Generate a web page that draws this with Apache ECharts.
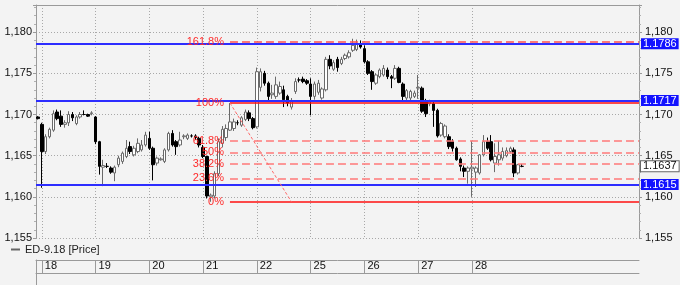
<!DOCTYPE html>
<html><head><meta charset="utf-8">
<script src="https://cdn.jsdelivr.net/npm/echarts@6/dist/echarts.min.js"></script>
<style>html,body{margin:0;padding:0;background:#f3f3f3}#c{width:680px;height:285px}</style>
</head><body><div id="c"></div>
<script>
const seriesName = 'ED-9.18 [Price]';
const dayLabels = ['18','19','20','21','22','25','26','27','28'];
const barsPerDay = 14;
const firstDayBar = 1;
const visibleBars = 157;

const opens = [1.1697,1.1688,1.1655,1.1673,1.1681,1.1703,1.1698,1.1688,1.1690,1.1700,1.1689,1.1697,1.1700,1.1700,1.1701,
 1.1697,1.1667,1.1636,1.1637,1.1635,1.1629,1.1639,1.1643,1.1649,1.1661,1.1651,1.1655,1.1657,1.1663,
 1.1671,1.1659,1.1641,1.1645,1.1643,1.1657,1.1677,1.1667,1.1663,1.1673,1.1671,1.1674,1.1674,1.1671,
 1.1660,1.1649,1.1600,1.1601,1.1628,1.1665,1.1672,1.1681,1.1683,1.1690,1.1687,1.1694,1.1702,1.1695,
 1.1685,1.1733,1.1750,1.1738,1.1724,1.1722,1.1726,1.1730,1.1722,1.1709,1.1728,1.1742,1.1743,1.1741,
 1.1737,1.1722,1.1727,1.1720,1.1730,1.1767,1.1755,1.1767,1.1762,1.1768,1.1770,1.1778,1.1779,1.1785,
 1.1780,1.1764,1.1752,1.1738,1.1746,1.1748,1.1754,1.1746,1.1744,1.1756,1.1737,1.1720,1.1720,1.1722,
 1.1732,1.1732,1.1717,1.1713,1.1713,1.1705,1.1675,1.1673,1.1673,1.1667,1.1659,1.1646,1.1635,1.1631,
 1.1634,1.1630,1.1629,1.1651,1.1667,1.1667,1.1641,1.1645,1.1647,1.1650,1.1655,1.1657,1.1629,1.1637];
const closes = [1.1695,1.1655,1.1673,1.1682,1.1701,1.1695,1.1688,1.1690,1.1700,1.1696,1.1697,1.1700,1.1700,1.1698,1.1702,
 1.1667,1.1637,1.1638,1.1637,1.1630,1.1636,1.1647,1.1653,1.1659,1.1655,1.1659,1.1665,1.1663,1.1675,
 1.1659,1.1639,1.1647,1.1646,1.1657,1.1677,1.1663,1.1661,1.1669,1.1674,1.1675,1.1674,1.1672,1.1663,
 1.1649,1.1601,1.1602,1.1628,1.1667,1.1682,1.1683,1.1691,1.1691,1.1690,1.1696,1.1703,1.1695,1.1684,
 1.1752,1.1752,1.1738,1.1722,1.1726,1.1736,1.1734,1.1718,1.1714,1.1717,1.1740,1.1742,1.1740,1.1738,
 1.1722,1.1737,1.1738,1.1731,1.1767,1.1759,1.1763,1.1757,1.1767,1.1772,1.1775,1.1784,1.1785,1.1782,
 1.1764,1.1750,1.1740,1.1748,1.1754,1.1756,1.1746,1.1744,1.1756,1.1739,1.1722,1.1729,1.1728,1.1726,
 1.1733,1.1704,1.1701,1.1715,1.1705,1.1674,1.1689,1.1686,1.1661,1.1659,1.1645,1.1637,1.1631,1.1635,
 1.1636,1.1635,1.1651,1.1667,1.1659,1.1645,1.1649,1.1651,1.1655,1.1656,1.1659,1.1629,1.1639,1.1637];
const lows = [1.1694,1.1611,1.1652,1.1671,1.1679,1.1693,1.1685,1.1684,1.1686,1.1692,1.1687,1.1695,1.1699,1.1697,1.1699,
 1.1664,1.1627,1.1613,1.1635,1.1628,1.1619,1.1636,1.1640,1.1647,1.1652,1.1649,1.1653,1.1655,1.1661,
 1.1657,1.1620,1.1638,1.1644,1.1641,1.1655,1.1661,1.1651,1.1661,1.1670,1.1669,1.1672,1.1669,1.1660,
 1.1647,1.1598,1.1594,1.1598,1.1625,1.1660,1.1668,1.1680,1.1680,1.1687,1.1685,1.1692,1.1692,1.1682,
 1.1683,1.1728,1.1735,1.1716,1.1719,1.1719,1.1724,1.1709,1.1710,1.1706,1.1725,1.1739,1.1738,1.1736,
 1.1699,1.1718,1.1724,1.1718,1.1728,1.1755,1.1753,1.1752,1.1760,1.1766,1.1768,1.1776,1.1777,1.1780,
 1.1762,1.1748,1.1730,1.1736,1.1744,1.1746,1.1743,1.1732,1.1742,1.1738,1.1717,1.1717,1.1716,1.1720,
 1.1719,1.1702,1.1697,1.1710,1.1685,1.1672,1.1673,1.1671,1.1658,1.1655,1.1644,1.1631,1.1624,1.1616,
 1.1600,1.1612,1.1627,1.1649,1.1657,1.1643,1.1630,1.1638,1.1644,1.1648,1.1653,1.1624,1.1627,1.1636];
const highs = [1.1698,1.1690,1.1676,1.1684,1.1705,1.1706,1.1705,1.1693,1.1704,1.1703,1.1699,1.1703,1.1705,1.1701,1.1704,
 1.1698,1.1668,1.1645,1.1641,1.1637,1.1638,1.1650,1.1655,1.1669,1.1667,1.1662,1.1671,1.1669,1.1679,
 1.1679,1.1661,1.1649,1.1648,1.1659,1.1679,1.1681,1.1669,1.1679,1.1676,1.1677,1.1676,1.1676,1.1673,
 1.1663,1.1650,1.1604,1.1631,1.1671,1.1686,1.1688,1.1714,1.1695,1.1693,1.1698,1.1706,1.1705,1.1697,
 1.1757,1.1756,1.1753,1.1740,1.1736,1.1746,1.1740,1.1735,1.1724,1.1720,1.1744,1.1745,1.1746,1.1743,
 1.1744,1.1740,1.1742,1.1733,1.1770,1.1772,1.1766,1.1770,1.1770,1.1774,1.1778,1.1792,1.1791,1.1790,
 1.1784,1.1766,1.1754,1.1750,1.1756,1.1760,1.1757,1.1748,1.1760,1.1758,1.1739,1.1731,1.1730,1.1729,
 1.1748,1.1734,1.1719,1.1718,1.1716,1.1707,1.1691,1.1688,1.1676,1.1670,1.1661,1.1648,1.1638,1.1637,
 1.1668,1.1637,1.1652,1.1675,1.1672,1.1675,1.1665,1.1668,1.1660,1.1660,1.1661,1.1660,1.1640,1.1640];

const keyLevels = [1.1786, 1.1717, 1.1615];
const lastPrice = 1.1637;
const fibHigh = 1.1714, fibLow = 1.1594;
const fibHighBar = 50, fibEndBar = 66;
const fibRatios = [1.618, 1, 0.618, 0.5, 0.382, 0.236, 0];
const fibTexts = ['161.8%','100%','61.8%','50%','38.2%','23.6%','0%'];
const yMin = 1.155, yMax = 1.1833, yStep = 0.005;

// half-slot resolution so that bars sit between slot edges
const nCats = visibleBars * 2 + 1;
const cats = Array.from({length: nCats}, (_, j) => String(j));
const barCat = i => 2 * i + 1;
const dayAt = {};
dayLabels.forEach((d, k) => { dayAt[barCat(firstDayBar + k * barsPerDay)] = d; });
const isDay = (idx) => dayAt[idx] !== undefined;

const candleData = cats.map(() => '-');
opens.forEach((o, i) => { candleData[barCat(i)] = [o, closes[i], lows[i], highs[i]]; });

const gray = '#9a9a9a';
const font = 'Liberation Sans, Arial, sans-serif';
const yFmt = v => (Math.abs(v / yStep - Math.round(v / yStep)) < 1e-6) ? v.toFixed(3).replace('.', ',') : '';

const markData = [];
keyLevels.forEach(v => {
  markData.push({ yAxis: v, lineStyle: { color: '#2d2dff', width: 2, type: 'solid' },
    label: { show: true, position: 'end', distance: 2, formatter: v.toFixed(4), color: '#fff', backgroundColor: '#1212ff',
      padding: [0, 2, 0, 2], lineHeight: 11, fontSize: 11, fontFamily: font } });
});
markData.push({ yAxis: lastPrice, lineStyle: { width: 1, color: 'rgba(0,0,0,0)' },
  label: { show: true, position: 'end', distance: 2, formatter: lastPrice.toFixed(4), color: '#111', backgroundColor: '#fff',
    borderColor: '#666', borderWidth: 1, padding: [0, 2, 0, 2], lineHeight: 10, fontSize: 11, fontFamily: font } });
fibRatios.forEach((r, k) => {
  const v = fibLow + r * (fibHigh - fibLow);
  const solid = (r === 1 || r === 0);
  markData.push([
    { coord: [cats[barCat(fibHighBar)], v],
      lineStyle: { color: solid ? '#ff1010' : (r > 1 ? '#ff5050' : '#ff7a7a'), width: 1.5, type: solid ? 'solid' : [8, 4] },
      label: { show: true, position: 'start', distance: 6, formatter: fibTexts[k], color: '#ff2a2a', fontSize: 11, fontFamily: font } },
    { coord: [cats[nCats - 1], v] }
  ]);
});
markData.push([
  { coord: [cats[barCat(fibHighBar)], fibHigh], lineStyle: { color: '#ff6a6a', width: 1, type: [3, 2] }, label: { show: false } },
  { coord: [cats[barCat(fibEndBar)], fibLow] }
]);

const chart = echarts.init(document.getElementById('c'), null, { renderer: 'canvas' });
chart.setOption({
  animation: false,
  backgroundColor: '#f3f3f3',
  textStyle: { fontFamily: font },
  legend: {
    left: 6, top: 239, itemWidth: 9, itemHeight: 2, selectedMode: false,
    textStyle: { fontSize: 11, color: '#222', fontFamily: font },
    data: [{ name: seriesName, icon: 'rect', itemStyle: { color: '#666', borderWidth: 0 } }]
  },
  grid: [
    { left: 36, right: 41, top: 5, bottom: 47 },
    { left: 36, right: 41, top: 260, height: 13 },
    { left: 36, right: 41, top: 273, height: 20 }
  ],
  xAxis: [
    { gridIndex: 0, type: 'category', data: cats, boundaryGap: false, position: 'top',
      axisLine: { show: true, onZero: false, lineStyle: { color: gray } }, axisTick: { show: false }, axisLabel: { show: false },
      splitLine: { show: true, interval: (i) => isDay(i), lineStyle: { color: '#a8a8a8', type: [1, 2] } } },
    { gridIndex: 1, type: 'category', data: cats, boundaryGap: false, position: 'top',
      axisLine: { show: true, onZero: false, lineStyle: { color: gray } }, axisTick: { show: false },
      axisLabel: { show: true, inside: true, interval: (i) => isDay(i), formatter: (v) => dayAt[v] || '',
        align: 'left', verticalAlign: 'middle', margin: 6, padding: [0, 0, 0, 3], fontSize: 11, color: '#111', fontFamily: font },
      splitLine: { show: true, interval: (i) => isDay(i), lineStyle: { color: gray } } },
    { gridIndex: 1, type: 'category', data: cats, boundaryGap: false, position: 'bottom',
      axisLine: { show: true, onZero: false, lineStyle: { color: gray } }, axisTick: { show: false }, axisLabel: { show: false }, splitLine: { show: false } },
    { gridIndex: 2, type: 'category', data: cats, boundaryGap: false, show: false }
  ],
  yAxis: [
    { gridIndex: 0, type: 'value', position: 'left', min: yMin, max: yMax, interval: yStep,
      axisLine: { show: true, onZero: false, lineStyle: { color: gray } },
      axisTick: { show: true, length: 3, lineStyle: { color: gray } },
      minorTick: { show: true, splitNumber: 5, length: 2, lineStyle: { color: '#b0b0b0' } },
      axisLabel: { formatter: yFmt, margin: 4, fontSize: 11, color: '#111', fontFamily: font, showMaxLabel: false },
      splitLine: { show: true, showMaxLine: false, lineStyle: { color: '#a8a8a8', type: [1, 2] } } },
    { gridIndex: 0, type: 'value', position: 'right', min: yMin, max: yMax, interval: yStep,
      axisLine: { show: true, onZero: false, lineStyle: { color: gray } },
      axisTick: { show: true, length: 3, lineStyle: { color: gray } },
      minorTick: { show: true, splitNumber: 5, length: 2, lineStyle: { color: '#b0b0b0' } },
      axisLabel: { formatter: yFmt, margin: 6, fontSize: 11, color: '#111', fontFamily: font, showMaxLabel: false },
      splitLine: { show: false } },
    { gridIndex: 1, type: 'value', min: 0, max: 1, axisLine: { show: true, onZero: false, lineStyle: { color: gray } },
      axisTick: { show: false }, axisLabel: { show: false }, splitLine: { show: false } },
    { gridIndex: 2, type: 'value', min: 0, max: 1, axisLine: { show: true, onZero: false, lineStyle: { color: gray } },
      axisTick: { show: false }, axisLabel: { show: false }, splitLine: { show: false } }
  ],
  series: [{
    name: seriesName, type: 'candlestick', xAxisIndex: 0, yAxisIndex: 0, data: candleData,
    barWidth: 3, z: 2,
    itemStyle: { color: '#ffffff', color0: '#000000', borderColor: '#6a6a6a', borderColor0: '#000000', borderWidth: 1 },
    markLine: { silent: true, symbol: ['none', 'none'], animation: false, precision: 5, z: 5, data: markData }
  }]
});
</script></body></html>
